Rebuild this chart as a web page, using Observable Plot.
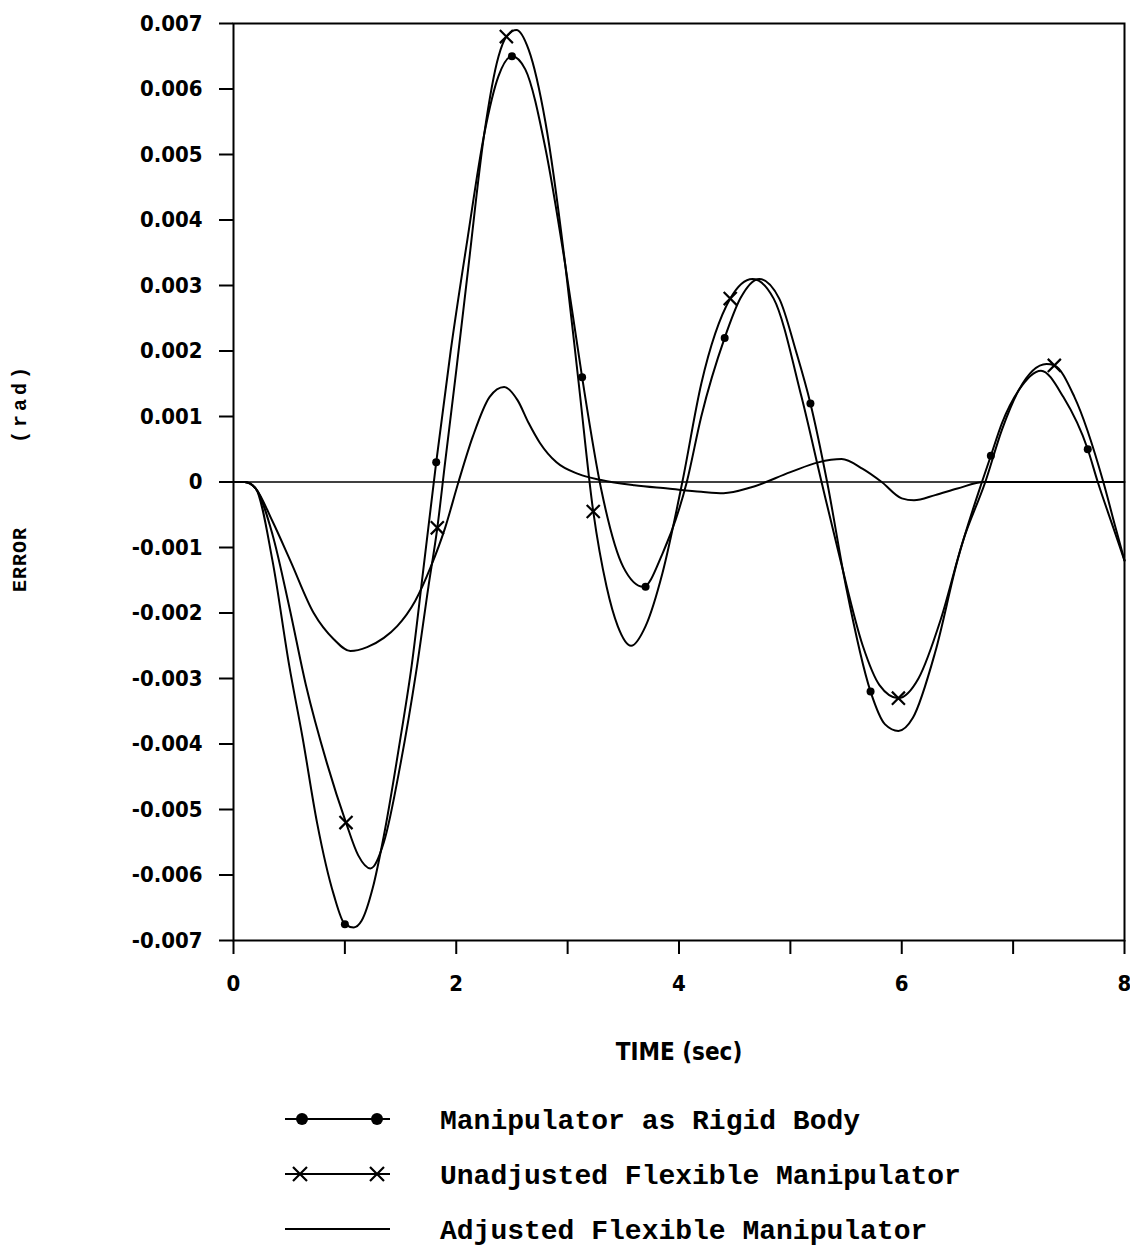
<!DOCTYPE html>
<html>
<head>
<meta charset="utf-8">
<script src="https://cdn.jsdelivr.net/npm/d3@7"></script>
<script src="https://cdn.jsdelivr.net/npm/@observablehq/plot@0.6"></script>
<style>
  html, body { margin: 0; padding: 0; background: #fff; }
  #wrap { position: relative; width: 1130px; height: 1247px; }
  #legend { position: absolute; left: 0; top: 1092px; }
</style>
</head>
<body>
<div id="wrap"><div id="chart"></div><div id="legend"></div></div>
<script>
// ---- Data ----
const rigidT = [0, 0.1, 0.2, 0.35, 0.5, 0.62, 0.75, 0.9, 1.0, 1.08, 1.15, 1.25, 1.35, 1.5, 1.6, 1.7, 1.82, 1.95, 2.1, 2.25, 2.38, 2.5, 2.62, 2.8, 2.98, 3.13, 3.3, 3.5, 3.68, 3.85, 4.07, 4.2, 4.41, 4.55, 4.72, 4.9, 5.05, 5.18, 5.33, 5.5, 5.72, 5.85, 5.97, 6.1, 6.3, 6.5, 6.72, 6.8, 6.9, 7.05, 7.25, 7.45, 7.67, 7.76, 7.9, 8.0];
const rigidE = [0, 0, -0.0001, -0.0012, -0.0028, -0.0039, -0.0052, -0.0063, -0.00675, -0.0068, -0.0067, -0.0062, -0.0054, -0.0039, -0.0028, -0.0014, 0.0003, 0.0020, 0.0037, 0.0053, 0.0062, 0.0065, 0.0063, 0.0051, 0.0033, 0.0016, -0.0001, -0.0013, -0.0016, -0.0011, 0.0, 0.0010, 0.0022, 0.0028, 0.0031, 0.0028, 0.0020, 0.0012, 0.0, -0.0016, -0.0032, -0.0037, -0.0038, -0.0036, -0.0026, -0.0012, 0.0, 0.0004, 0.0009, 0.0014, 0.0017, 0.0013, 0.0005, 0.0, -0.0007, -0.0012];

const unadjT = [0, 0.1, 0.2, 0.35, 0.5, 0.65, 0.84, 1.01, 1.12, 1.23, 1.35, 1.5, 1.64, 1.75, 1.83, 1.9, 2.0, 2.11, 2.25, 2.38, 2.45, 2.54, 2.65, 2.8, 2.98, 3.1, 3.23, 3.35, 3.45, 3.57, 3.7, 3.85, 4.03, 4.2, 4.46, 4.66, 4.85, 5.1, 5.28, 5.45, 5.65, 5.8, 5.97, 6.15, 6.35, 6.55, 6.75, 6.9, 7.05, 7.3, 7.37, 7.55, 7.81, 7.92, 8.0];
const unadjE = [0, 0, -0.0001, -0.0008, -0.0019, -0.0031, -0.0043, -0.0052, -0.0057, -0.0059, -0.0055, -0.0043, -0.0029, -0.0016, -0.0007, 0.0003, 0.0017, 0.0033, 0.0053, 0.0065, 0.0068, 0.0069, 0.0066, 0.0055, 0.0033, 0.0015, -0.00045, -0.0016, -0.0022, -0.0025, -0.0022, -0.0014, 0.0, 0.0015, 0.0028, 0.0031, 0.0028, 0.0013, 0.0, -0.0012, -0.0025, -0.0031, -0.0033, -0.003, -0.0021, -0.0009, 0.0, 0.0008, 0.0014, 0.0018, 0.00178, 0.0013, 0.0, -0.0007, -0.0012];

const adjT = [0, 0.1, 0.2, 0.35, 0.51, 0.72, 0.9, 1.05, 1.2, 1.35, 1.47, 1.63, 1.77, 1.9, 2.02, 2.15, 2.3, 2.43, 2.55, 2.65, 2.75, 2.9, 3.1, 3.3, 3.6, 3.9, 4.2, 4.4, 4.65, 5.0, 5.25, 5.46, 5.65, 5.82, 6.0, 6.11, 6.3, 6.5, 6.74, 7.0, 7.5, 8.0];
const adjE = [0, 0, -0.0001, -0.0006, -0.0012, -0.002, -0.0024, -0.00258, -0.00252, -0.00238, -0.0022, -0.00182, -0.0013, -0.0007, 0.0, 0.0007, 0.0013, 0.00145, 0.00125, 0.0009, 0.0006, 0.0003, 0.00012, 0.00003, -0.00005, -0.0001, -0.00015, -0.00017, -0.00008, 0.00015, 0.0003, 0.00035, 0.0002, 0.0, -0.00025, -0.00028, -0.0002, -0.0001, 0.0, 0.0, 0.0, 0.0];

const rigidMarkT = [1.0, 1.82, 2.5, 3.13, 3.7, 4.41, 5.18, 5.72, 6.8, 7.67];
const rigidMarkE = [-0.00675, 0.0003, 0.0065, 0.0016, -0.0016, 0.0022, 0.0012, -0.0032, 0.0004, 0.0005];
const unadjMarkT = [1.01, 1.83, 2.45, 3.23, 4.46, 5.97, 7.37];
const unadjMarkE = [-0.0052, -0.0007, 0.0068, -0.00045, 0.0028, -0.0033, 0.00178];

const xTicks = [0, 1, 2, 3, 4, 5, 6, 7, 8];
const yTicks = [-0.007, -0.006, -0.005, -0.004, -0.003, -0.002, -0.001, 0, 0.001, 0.002, 0.003, 0.004, 0.005, 0.006, 0.007];
const seriesNames = ["Manipulator as Rigid Body", "Unadjusted Flexible Manipulator", "Adjusted Flexible Manipulator"];
const xLabel = "TIME (sec)";
const yLabelParts = ["ERROR", "(rad)"];

// ---- Build tables ----
const zip = (T, E) => T.map((t, i) => ({t, e: E[i]}));
const rigid = zip(rigidT, rigidE);
const unadj = zip(unadjT, unadjE);
const adj = zip(adjT, adjE);
const rigidMarks = zip(rigidMarkT, rigidMarkE);
const unadjMarks = zip(unadjMarkT, unadjMarkE);

const numFont = "'Liberation Sans Narrow', 'DejaVu Sans Condensed', 'Roboto Condensed', sans-serif";
const monoFont = "'Liberation Mono', 'DejaVu Sans Mono', monospace";

const fmtY = d => d === 0 ? "0" : (d < 0 ? "-" : "") + Math.abs(d).toFixed(3);

const plot = Plot.plot({
  width: 1130,
  height: 1085,
  marginLeft: 233,
  marginRight: 6,
  marginTop: 23,
  marginBottom: 145,
  style: {fontFamily: numFont, fontSize: "22px", fontWeight: "bold", color: "black", background: "white"},
  x: {domain: [0, 8]},
  y: {domain: [-0.007, 0.007]},
  marks: [
    Plot.frame({stroke: "black", strokeWidth: 2}),
    Plot.ruleY([0], {stroke: "black", strokeWidth: 1.6}),
    Plot.axisY({ticks: yTicks, tickSize: 14, tickPadding: 17, tickFormat: fmtY, strokeWidth: 2, label: null}),
    Plot.axisX({ticks: xTicks, tickSize: 14, tickPadding: 21, tickFormat: d => d % 2 === 0 ? String(d) : "", strokeWidth: 2, label: null}),
    Plot.line(adj, {x: "t", y: "e", stroke: "black", strokeWidth: 2, curve: "monotone-x"}),
    Plot.line(unadj, {x: "t", y: "e", stroke: "black", strokeWidth: 2, curve: "monotone-x"}),
    Plot.line(rigid, {x: "t", y: "e", stroke: "black", strokeWidth: 2, curve: "monotone-x"}),
    Plot.dot(rigidMarks, {x: "t", y: "e", r: 4, fill: "black", stroke: "none"}),
    Plot.dot(unadjMarks, {x: "t", y: "e", r: 6, symbol: "times", stroke: "black", strokeWidth: 2.2}),
    Plot.text([xLabel], {frameAnchor: "bottom", dy: 119, fontSize: 24, fontFamily: numFont, fontWeight: "bold", fill: "black"})
  ]
});
document.getElementById("chart").append(plot);

// rotated y-axis title (two parts, as in the reference)
const yl = d3.select(plot).append("g").attr("transform", "translate(26,0)");
yl.append("text")
  .attr("transform", "translate(0,592) rotate(-90)")
  .attr("text-anchor", "start")
  .attr("font-family", monoFont).attr("font-size", 20).attr("font-weight", "bold")
  .attr("letter-spacing", 1).attr("fill", "black")
  .text(yLabelParts[0]);
yl.append("text")
  .attr("transform", "translate(0,443) rotate(-90)")
  .attr("text-anchor", "start")
  .attr("font-family", monoFont).attr("font-size", 20).attr("font-weight", "bold")
  .attr("letter-spacing", 4).attr("fill", "black")
  .text(yLabelParts[1]);

// ---- Legend ----
const lg = d3.select("#legend").append("svg").attr("width", 1130).attr("height", 160);
const rowsY = [27, 82, 137];
seriesNames.forEach((name, i) => {
  const g = lg.append("g").attr("transform", `translate(0,${rowsY[i]})`);
  g.append("line").attr("x1", 285).attr("x2", 390).attr("y1", 0).attr("y2", 0)
    .attr("stroke", "black").attr("stroke-width", 2);
  if (i === 0) {
    [302, 377].forEach(x => g.append("circle").attr("cx", x).attr("cy", 0).attr("r", 6).attr("fill", "black"));
  } else if (i === 1) {
    [300, 377].forEach(x => g.append("path").attr("d", `M${x-7},-7L${x+7},7M${x-7},7L${x+7},-7`)
      .attr("stroke", "black").attr("stroke-width", 2.2));
  }
  g.append("text").attr("x", 440).attr("y", 0).attr("dy", "0.35em")
    .attr("font-family", monoFont).attr("font-weight", "bold").attr("font-size", 28)
    .attr("fill", "black").text(name);
});
</script>
</body>
</html>
